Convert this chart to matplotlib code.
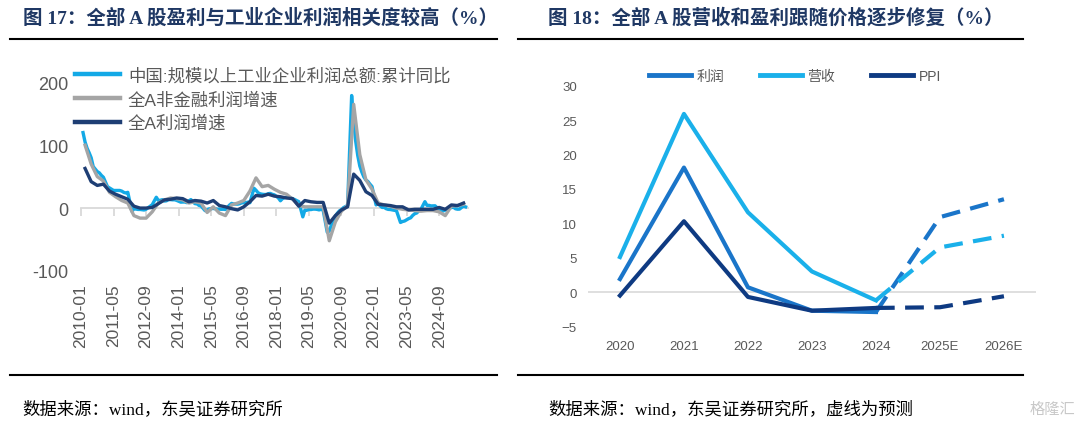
import numpy as np
import matplotlib.pyplot as plt
from matplotlib.lines import Line2D

plt.rcParams['font.family'] = ['Liberation Sans', 'Noto Sans CJK SC']

# ---- left chart data ----
# industrial profits, cumulative yoy (%), Feb..Dec of each year (Jan merged into Feb)
industrial_yoy = {
    2010: [120, 105, 95, 88, 80, 66, 62, 58, 56, 52, 49],
    2011: [34, 32, 30, 28, 28, 28, 28, 27, 25, 24, 25],
    2012: [-5.2, -1.3, -1.6, -2.2, -2.2, -2.7, -3.1, -1.8, 0.5, 3.0, 5.3],
    2013: [17.2, 12.1, 12.4, 13.3, 11.1, 11.6, 13.5, 13.4, 13.1, 13.2, 12.2],
    2014: [9.4, 9.6, 9.6, 8.6, 11.4, 13.5, 10.0, 7.0, 6.7, 4.2, 3.3],
    2015: [-4.2, -2.7, -1.3, -0.8, -0.7, -1.0, -1.9, -1.7, -2.0, -1.9, -2.3],
    2016: [4.8, 7.4, 6.5, 6.4, 6.2, 6.9, 8.4, 8.4, 8.6, 9.4, 8.5],
    2017: [31.5, 28.3, 24.4, 22.7, 22.0, 21.6, 21.6, 22.8, 23.3, 21.9, 21.0],
    2018: [16.1, 11.6, 15.0, 16.5, 17.2, 17.1, 16.2, 14.7, 13.6, 11.8, 10.3],
    2019: [-14.0, -3.3, -3.4, -2.3, -2.4, -1.7, -1.7, -2.1, -2.9, -2.1, -3.3],
    2020: [-38.3, -36.7, -27.4, -19.3, -12.8, -8.1, -4.4, -2.4, 0.7, 2.4, 4.1],
    2021: [178.9, 137.3, 106.0, 83.4, 66.9, 57.3, 49.5, 44.7, 42.2, 38.0, 34.3],
    2022: [5.0, 8.5, 3.5, 1.0, 1.0, -1.1, -2.1, -2.3, -3.0, -3.6, -4.0],
    2023: [-22.9, -21.4, -20.6, -18.8, -16.8, -15.5, -11.7, -9.0, -7.8, -4.4, -2.3],
    2024: [10.2, 4.3, 4.3, 3.4, 3.5, 3.6, 0.5, -3.5, -4.3, -4.7, -3.3],
    2025: [-0.3, 0.8, 1.4, -1.1, -1.8, -1.7, 0.9, 3.2, 1.9],
}
# quarterly, 2010Q1 .. 2025Q3
a_nonfin = [100, 70, 50, 43, 25, 18, 12, 8, -12, -16, -16, -6, 8, 13, 16, 15,
            13, 8, 10, 8, -7, 2, -8, -12, 5, 8, 12, 27, 48, 34, 36, 30,
            25, 22, 14, 4, 2, 2, 2, 2, -52, -22, -5, 4, 165, 85, 45, 30,
            8, 5, 3, 0, -2, -3, -4, -5, -4, -4, -6, -12, 3, 4, 6]
a_all = [63, 42, 36, 38, 27, 22, 18, 14, 3, 0, 0, 1, 7, 13, 14, 16,
         15, 10, 12, 11, 8, 12, 4, 2, -1, -3, 2, 10, 20, 19, 22, 19,
         18, 16, 15, 3, 12, 10, 9, 9, -24, -12, -3, 2, 54, 44, 26, 20,
         6, 5, 4, 2, 2, -3, -2, -2, -2, -2, 1, -2, 5, 4, 8]
left_labels = ['中国:规模以上工业企业利润总额:累计同比', '全A非金融利润增速', '全A利润增速']
left_ticks = ['2010-01', '2011-05', '2012-09', '2014-01', '2015-05', '2016-09',
              '2018-01', '2019-05', '2020-09', '2022-01', '2023-05', '2024-09']

# ---- right chart data ----
years = ['2020', '2021', '2022', '2023', '2024', '2025E', '2026E']
profit = [1.9, 18.1, 0.7, -2.7, -2.9, 10.9, 13.5]
revenue = [5.1, 25.9, 11.6, 3.0, -1.2, 6.5, 8.2]
ppi = [-0.5, 10.3, -0.7, -2.7, -2.3, -2.2, -0.6]

# month index from 2010-01
m_ind, v_ind = [], []
for yr, vals in industrial_yoy.items():
    for k, v in enumerate(vals):
        m_ind.append((yr - 2010) * 12 + 1 + k)
        v_ind.append(v)
m_q = [2 + 3 * i for i in range(len(a_all))]

fig = plt.figure(figsize=(10.8, 4.31), dpi=100)
navy = '#1F3864'
tick_col = '#595959'

ax1 = fig.add_axes([0.075, 0.369, 0.358, 0.4378])
ax1.plot(m_ind, v_ind, color='#13A9E6', lw=2.4, label=left_labels[0])
ax1.plot(m_q, a_nonfin, color='#A5A5A5', lw=2.4, label=left_labels[1])
ax1.plot(m_q, a_all, color='#1E3E74', lw=2.4, label=left_labels[2])
ax1.set_xlim(0, 190)
ax1.set_ylim(-100, 200)
for s in ['top', 'right', 'left']:
    ax1.spines[s].set_visible(False)
ax1.spines['bottom'].set_position(('data', 0))
ax1.spines['bottom'].set_color('#D9D9D9')
ax1.spines['bottom'].set_linewidth(1.3)
ax1.spines['bottom'].set_zorder(0)
tick_pos = [16 * i for i in range(len(left_ticks))]
ax1.set_xticks(tick_pos)
ax1.tick_params(axis='x', direction='out', length=6, width=1.3, color='#D9D9D9', labelbottom=False)
sec = ax1.secondary_xaxis('bottom')
sec.set_xticks(tick_pos, left_ticks, rotation=90)
sec.tick_params(length=0, pad=9, labelsize=12.5, colors=tick_col)
sec.spines['bottom'].set_visible(False)
ax1.set_yticks([-100, 0, 100, 200], ['-100', '0', '100', '200'])
ax1.tick_params(axis='y', length=0, pad=9, labelsize=13, colors=tick_col)
leg1 = ax1.legend(loc='upper left', bbox_to_anchor=(75 / 1080, 1 - 68 / 431),
                  bbox_transform=fig.transFigure, frameon=False, fontsize=12.5,
                  handlelength=2.6, handletextpad=0.45, labelspacing=0.42,
                  borderpad=0, borderaxespad=0, labelcolor=tick_col)
for h in leg1.get_lines():
    h.set_linewidth(3.2)

# right chart
ax2 = fig.add_axes([0.5444, 0.2401, 0.4148, 0.5587])
x = np.arange(len(years))
cols = ['#1A75C9', '#1AB0EA', '#0E3A82']
for vals, c in zip([profit, revenue, ppi], cols):
    ax2.plot(x[:5], vals[:5], color=c, lw=3)
    ax2.plot(x[4:], vals[4:], color=c, lw=3, dashes=(4.5, 2.5))
ax2.axhline(0, color='#D9D9D9', lw=1.2, zorder=0)
ax2.set_xlim(-0.5, 6.5)
ax2.set_ylim(-5, 30)
for s in ax2.spines.values():
    s.set_visible(False)
ax2.set_xticks(x, years)
ax2.tick_params(axis='x', length=0, pad=10, labelsize=9.5, colors=tick_col)
yt = list(range(-5, 31, 5))
ax2.set_yticks(yt, [str(v).replace('-', '\u2212') for v in yt])
ax2.tick_params(axis='y', length=0, pad=8, labelsize=9.5, colors=tick_col)
handles = [Line2D([], [], color=c, lw=3.5) for c in cols]
ax2.legend(handles, ['利润', '营收', 'PPI'], ncol=3, loc='center',
           bbox_to_anchor=(795 / 1080, 1 - 77 / 431), bbox_transform=fig.transFigure,
           frameon=False, fontsize=10, handlelength=3.0, handletextpad=0.4,
           columnspacing=2.6, labelcolor=tick_col)

# titles, rules, sources
serif = ['Liberation Serif', 'Noto Sans CJK SC']
fig.text(23 / 1080, 1 - 18 / 431, '图 17：全部 A 股盈利与工业企业利润相关度较高（%）',
         fontsize=14, weight='bold', color=navy, va='center', family=serif)
fig.text(548 / 1080, 1 - 18 / 431, '图 18：全部 A 股营收和盈利跟随价格逐步修复（%）',
         fontsize=14, weight='bold', color=navy, va='center', family=serif)
for x0, x1 in [(10, 497), (518, 1023)]:
    for yy in [40, 376]:
        fig.add_artist(Line2D([x0 / 1080, x1 / 1080], [1 - yy / 431] * 2, color='black', lw=1.5))
fig.text(22 / 1080, 1 - 410 / 431, '数据来源：wind，东吴证券研究所',
         fontsize=12.5, va='center', family=serif)
fig.text(548 / 1080, 1 - 410 / 431, '数据来源：wind，东吴证券研究所，虚线为预测',
         fontsize=12.5, va='center', family=serif)
fig.text(1030 / 1080, 1 - 410 / 431, '格隆汇', fontsize=11, color='#C8C8C8', va='center')

fig.savefig('out.png', dpi=100)
